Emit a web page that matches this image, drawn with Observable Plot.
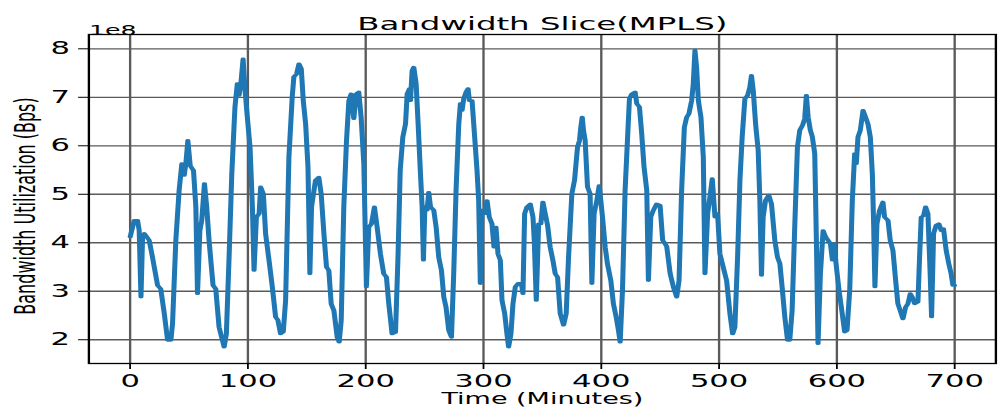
<!DOCTYPE html>
<html><head><meta charset="utf-8">
<script src="https://cdn.jsdelivr.net/npm/d3@7"></script>
<script src="https://cdn.jsdelivr.net/npm/@observablehq/plot@0.6"></script>
<style>
html,body{margin:0;padding:0;background:#fff;}
#chart{width:1000px;height:414px;overflow:hidden;}
</style></head><body><div id="chart"></div>
<script>
// Time in minutes
const minutes = [0,3.5,6.3,7.7,9.2,10.6,12,16.2,19,23.3,26,29,31.8,34.6,36,38.8,41.6,43.9,45.9,47.3,49,51,53.8,55.8,57.2,59.2,60.8,63.1,65,67,70.4,72.7,75.5,79.8,81.7,84,86.3,89,91,92.5,94,95.9,97.6,99.5,101.8,103.8,105.2,107.2,109.5,110.8,113.1,115,117.9,120.7,123.5,125.5,127.7,130,132,134.8,137.6,139,141.3,143.3,145.3,147,149,151,152.6,154,157.4,160.2,162.2,164.5,166.7,168.7,170.7,173,175.8,177.5,179.2,181.4,183.7,185.7,187.6,189.9,191.9,194.1,196.1,198.4,200.6,202.6,204.9,207.4,209.7,212.5,215.3,217.6,219.6,222.4,225.3,227.4,229.3,231.5,233.8,235.2,237.2,238,239.4,240.8,242.8,244.5,246.5,247.9,249,250.2,252.1,253.5,255,257.8,259.8,262,264.3,266.3,268.2,270.5,272.8,274.7,276.7,279,280.4,281.8,283.2,285.2,286.9,288,290.3,292.5,294.5,295.9,297.3,298.7,301,303,304.9,307.2,308.9,310.6,312.3,314.3,315.7,318,319.9,321.3,323.3,325,327,329.3,332.1,333.5,334.9,336.9,339.7,342,343.1,344.8,346.8,348.7,350.4,352.4,354.4,356.6,358.9,360.9,362.9,365.1,368,370.2,372.2,375,377.3,379.8,381.5,382.6,383.8,384.9,386.3,388.3,390.5,392,393.9,396.2,398.2,399.6,401.3,403.3,405.2,408.1,410.3,412.6,414.6,416,418,420.2,422.2,423.9,425.9,428.7,430.1,432.4,434.3,436.3,438.6,440,442,444.2,447,449.9,452.1,455.5,458.5,461.2,464,466,468.2,470.5,472.5,474.4,476.7,478.1,479.5,480.9,482.4,484.6,486.6,488,490.3,492.2,494.2,496.5,498.7,500.7,503.5,506.4,509.2,511.5,513.4,515.7,517.7,519.6,521.9,524.2,526.1,527.5,529,531,533.2,534.6,536,537.4,539.4,542.2,544.5,547.3,549.6,551.6,553.5,555.8,558.1,560,562,564.3,566.5,568.5,570.8,572.7,574.1,575.6,577.5,579.2,581.2,582.6,584,586,588.3,590.5,592.5,594.5,596.2,597.6,599.6,601.8,603.8,606.6,608.6,610.9,613.1,615.1,616.5,617.9,619.9,622.2,624.4,626.4,628.4,630.1,631.2,632.3,634,636.3,639.1,640.5,643.4,645.3,647.6,649.9,651.8,653.8,656.1,658.3,660.3,662.3,664,666,668.8,670.2,671.6,673.6,675.3,677.3,679.2,680.4,682.1,684.3,686.6,688.6,690.5,692.8,695,697,698.5,700];
// Bandwidth utilization in units of 1e8 Bps
const bandwidth = [4.12,4.46,4.46,4.25,2.88,4.15,4.19,4.05,3.70,3.12,3.05,2.54,1.99,1.99,2.33,4.05,5.08,5.63,5.39,5.63,6.11,5.59,5.49,4.74,2.95,4.25,4.46,5.22,4.74,4.05,3.12,3.05,2.26,1.85,2.12,3.70,5.42,6.80,7.28,7.04,7.28,7.79,7.14,6.59,5.97,4.74,3.43,4.53,4.60,5.15,5.01,4.19,3.64,3.09,2.47,2.40,2.12,2.16,2.81,5.77,7.00,7.42,7.48,7.69,7.59,6.93,6.45,5.56,3.36,4.74,5.29,5.35,5.01,4.19,3.50,3.43,2.74,2.60,2.05,1.95,2.40,4.74,6.11,6.93,7.07,6.56,7.07,7.11,6.59,5.63,3.09,4.32,4.39,4.74,4.32,3.77,3.36,3.29,2.74,2.12,2.15,3.70,5.50,6.18,6.45,7.07,7.18,6.93,7.55,7.62,7.28,6.45,5.42,4.74,3.64,4.74,4.67,5.04,4.74,4.67,4.32,3.70,3.43,2.88,2.67,2.19,2.05,3.36,5.08,6.45,6.87,6.73,6.97,7.11,7.18,6.93,6.93,6.18,5.49,4.87,3.16,4.67,4.60,4.87,4.53,4.39,3.91,4.32,3.77,3.64,2.81,2.54,2.12,1.85,2.12,2.74,3.09,3.16,3.16,2.95,4.60,4.74,4.80,4.53,4.05,2.81,4.39,4.39,4.84,4.60,4.36,3.91,3.64,3.36,3.29,2.54,2.30,2.54,3.70,5.01,5.29,5.97,6.11,6.38,6.59,6.32,6.11,5.15,5.01,3.16,4.60,4.87,5.18,4.87,4.46,3.91,3.57,3.22,2.74,2.47,2.19,1.95,3.02,5.08,6.11,6.97,7.07,7.11,6.87,6.80,6.25,5.56,5.08,3.22,4.53,4.67,4.80,4.77,4.05,3.93,3.36,3.09,2.88,3.22,5.08,6.38,6.59,6.66,6.93,7.28,7.97,7.62,6.93,6.59,5.77,3.36,4.60,4.94,5.32,4.53,4.60,3.77,3.50,3.22,2.54,2.12,2.26,3.70,5.29,6.18,6.97,7.04,7.21,7.45,7.14,6.45,5.90,4.87,3.33,4.53,4.87,4.98,4.80,4.05,3.70,3.57,3.09,2.47,1.99,1.99,2.60,4.39,5.97,6.32,6.42,6.56,7.04,6.59,6.32,6.18,5.84,4.05,1.92,3.36,4.25,4.12,4.05,3.98,3.64,3.98,3.50,3.02,2.67,2.16,2.19,3.02,4.87,5.84,5.63,6.18,6.32,6.73,6.59,6.45,6.18,5.42,4.39,3.09,4.39,4.67,4.84,4.53,4.46,4.05,3.84,3.22,2.74,2.60,2.43,2.67,2.74,2.95,2.88,2.74,2.78,3.70,4.53,4.56,4.74,4.60,3.36,2.47,4.19,4.36,4.39,4.25,4.29,3.84,3.57,3.36,3.12,3.12];
const xTicks = [0,100,200,300,400,500,600,700];
const yTicks = [2,3,4,5,6,7,8];
const titleText = "Bandwidth Slice(MPLS)";
const xLabelText = "Time (Minutes)";
const yLabelText = "Bandwidth Utilization (Bps)";
const offsetText = "1e8";

const S = 1.8;            // horizontal stretch of the whole figure
const W = 1000 / S;
const data = minutes.map((t, i) => ({t, v: bandwidth[i]}));

const svg = Plot.plot({
  width: W, height: 414,
  marginLeft: 88 / S, marginRight: 5 / S, marginTop: 34, marginBottom: 51,
  style: {fontFamily: "DejaVu Sans", fontSize: "17px", color: "black", background: "white"},
  x: {domain: [-35, 735], ticks: xTicks, tickSize: 6, tickPadding: 5, label: null},
  y: {domain: [1.51, 8.295], ticks: yTicks, tickSize: 5.5, tickPadding: 5, label: null, tickFormat: d3.format("d")},
  marks: [
    Plot.ruleX(xTicks, {stroke: "#5a5a5a", strokeWidth: 1.3}),
    Plot.ruleY(yTicks, {stroke: "#5a5a5a", strokeWidth: 1.3}),
    Plot.line(data, {x: "t", y: "v", stroke: "#1f77b4", strokeWidth: 2.8, strokeLinejoin: "round", strokeLinecap: "round"}),
    Plot.frame({stroke: "black", strokeWidth: 1.3}),
    Plot.text([titleText], {text: d => d, frameAnchor: "top", dy: -17, fontSize: 18}),
    Plot.text([offsetText], {text: d => d, frameAnchor: "top-left", textAnchor: "start", dx: 0, dy: -9, fontSize: 14}),
    Plot.text([xLabelText], {text: d => d, frameAnchor: "bottom", dy: 40, fontSize: 15}),
    Plot.text([yLabelText], {text: d => d, frameAnchor: "left", textAnchor: "middle", rotate: -90, dx: -35, dy: 7, fontSize: 16})
  ]
});
svg.setAttribute("width", 1000);
svg.setAttribute("height", 414);
svg.setAttribute("preserveAspectRatio", "none");
svg.style.width = "1000px";
svg.style.height = "414px";
svg.style.maxWidth = "none";
document.getElementById("chart").appendChild(svg);
</script></body></html>
